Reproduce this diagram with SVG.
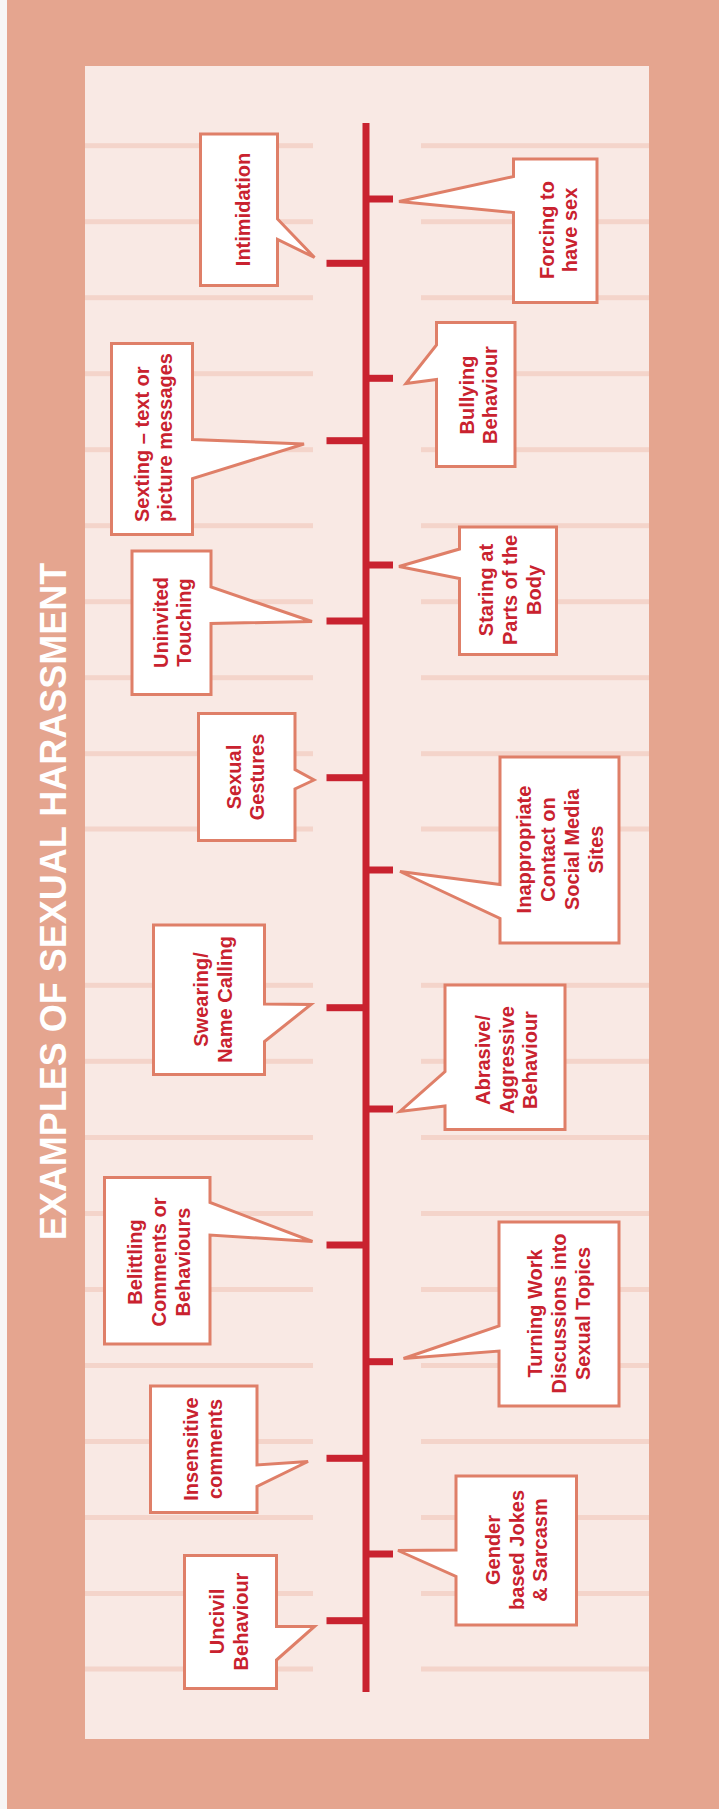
<svg xmlns="http://www.w3.org/2000/svg" width="719" height="1809" viewBox="0 0 719 1809">
<style>
.co{fill:#FFFFFF;stroke:#DF7F68;stroke-width:3;stroke-linejoin:miter}
.t{font-family:"Liberation Sans",Arial,sans-serif;font-weight:bold;font-size:20px;fill:#C9222F;text-anchor:middle;dominant-baseline:central}
.st{fill:#F4D4CA}
.tk{fill:#C9222F}
</style>
<rect x="0" y="0" width="719" height="1809" fill="#F7F6F6"/>
<rect x="7" y="0" width="712" height="1809" fill="#E5A58F"/>
<rect x="85" y="66" width="564" height="1673" fill="#F9E9E4"/>
<g id="stripes">
<rect class="st" x="85" y="143.2" width="228" height="5"/><rect class="st" x="421" y="143.2" width="228" height="5"/>
<rect class="st" x="85" y="219.2" width="228" height="5"/><rect class="st" x="421" y="219.2" width="228" height="5"/>
<rect class="st" x="85" y="295.2" width="228" height="5"/><rect class="st" x="421" y="295.2" width="228" height="5"/>
<rect class="st" x="85" y="371.2" width="228" height="5"/><rect class="st" x="421" y="371.2" width="228" height="5"/>
<rect class="st" x="85" y="447.2" width="228" height="5"/><rect class="st" x="421" y="447.2" width="228" height="5"/>
<rect class="st" x="85" y="523.2" width="228" height="5"/><rect class="st" x="421" y="523.2" width="228" height="5"/>
<rect class="st" x="85" y="599.2" width="228" height="5"/><rect class="st" x="421" y="599.2" width="228" height="5"/>
<rect class="st" x="85" y="675.2" width="228" height="5"/><rect class="st" x="421" y="675.2" width="228" height="5"/>
<rect class="st" x="85" y="751.2" width="228" height="5"/><rect class="st" x="421" y="751.2" width="228" height="5"/>
<rect class="st" x="85" y="826.5" width="228" height="5"/><rect class="st" x="421" y="826.5" width="228" height="5"/>
<rect class="st" x="85" y="982.8" width="228" height="5"/><rect class="st" x="421" y="982.8" width="228" height="5"/>
<rect class="st" x="85" y="1058.8" width="228" height="5"/><rect class="st" x="421" y="1058.8" width="228" height="5"/>
<rect class="st" x="85" y="1135" width="228" height="5"/><rect class="st" x="421" y="1135" width="228" height="5"/>
<rect class="st" x="85" y="1211" width="228" height="5"/><rect class="st" x="421" y="1211" width="228" height="5"/>
<rect class="st" x="85" y="1287" width="228" height="5"/><rect class="st" x="421" y="1287" width="228" height="5"/>
<rect class="st" x="85" y="1363" width="228" height="5"/><rect class="st" x="421" y="1363" width="228" height="5"/>
<rect class="st" x="85" y="1439" width="228" height="5"/><rect class="st" x="421" y="1439" width="228" height="5"/>
<rect class="st" x="85" y="1515" width="228" height="5"/><rect class="st" x="421" y="1515" width="228" height="5"/>
<rect class="st" x="85" y="1591" width="228" height="5"/><rect class="st" x="421" y="1591" width="228" height="5"/>
<rect class="st" x="85" y="1666.5" width="228" height="5"/><rect class="st" x="421" y="1666.5" width="228" height="5"/>
</g>
<g id="title">
<text transform="translate(53.5,901.5) rotate(-90)" font-family="'Liberation Sans',Arial,sans-serif" font-weight="bold" font-size="36" fill="#FFFFFF" text-anchor="middle" dominant-baseline="central">EXAMPLES OF SEXUAL HARASSMENT</text>
</g>
<g id="connectors">
<rect class="tk" x="362.5" y="123" width="7" height="1569"/>
<rect class="tk" x="326.5" y="259.8" width="40" height="7"/>
<rect class="tk" x="326.5" y="437.2" width="40" height="7"/>
<rect class="tk" x="326.5" y="617.5" width="40" height="7"/>
<rect class="tk" x="326.5" y="774.2" width="40" height="7"/>
<rect class="tk" x="326.5" y="1004.2" width="40" height="7"/>
<rect class="tk" x="326.5" y="1241.5" width="40" height="7"/>
<rect class="tk" x="326.5" y="1454.8" width="40" height="7"/>
<rect class="tk" x="326.5" y="1617.2" width="40" height="7"/>
<rect class="tk" x="366" y="195.5" width="27" height="7"/>
<rect class="tk" x="366" y="374.8" width="27" height="7"/>
<rect class="tk" x="366" y="561.5" width="27" height="7"/>
<rect class="tk" x="366" y="866.5" width="27" height="7"/>
<rect class="tk" x="366" y="1105.5" width="27" height="7"/>
<rect class="tk" x="366" y="1358.2" width="27" height="7"/>
<rect class="tk" x="366" y="1550.5" width="27" height="7"/>
</g>
<g id="intimidation">
<polygon class="co" points="200.5,134 277.5,134 277.5,219 314.5,257.5 277.5,239.5 277.5,285.5 200.5,285.5"/>
<text class="t" transform="translate(242.5,209.5) rotate(-90)"><tspan x="0" y="0">Intimidation</tspan></text>
</g>
<g id="forcing">
<polygon class="co" points="513.5,159 597,159 597,302.5 513.5,302.5 513.5,212.5 399,201.5 513.5,176.5"/>
<text class="t" transform="translate(558.5,230) rotate(-90)"><tspan x="0" y="-11.9">Forcing to</tspan><tspan x="0" y="11.9">have sex</tspan></text>
</g>
<g id="bullying">
<polygon class="co" points="436.5,322.5 515,322.5 515,466.5 436.5,466.5 436.5,379.5 406,383.5 436.5,345"/>
<text class="t" transform="translate(478.5,395) rotate(-90)"><tspan x="0" y="-11.9">Bullying</tspan><tspan x="0" y="11.9">Behaviour</tspan></text>
</g>
<g id="sexting">
<polygon class="co" points="111.5,343.5 192.5,343.5 192.5,439.5 304,444 192.5,478.5 192.5,534.5 111.5,534.5"/>
<text class="t" transform="translate(153.5,522) rotate(-90)" style="text-anchor:start"><tspan x="0" y="-11.9">Sexting – text or</tspan><tspan x="0" y="11.9">picture messages</tspan></text>
</g>
<g id="uninvited">
<polygon class="co" points="132,551 211,551 211,587 312,621.5 211,623.5 211,694.5 132,694.5"/>
<text class="t" transform="translate(172.5,622.5) rotate(-90)"><tspan x="0" y="-11.9">Uninvited</tspan><tspan x="0" y="11.9">Touching</tspan></text>
</g>
<g id="staring">
<polygon class="co" points="459.5,527 556.5,527 556.5,654.5 459.5,654.5 459.5,578.5 399,566.5 459.5,549"/>
<text class="t" transform="translate(510,590) rotate(-90)"><tspan x="0" y="-23.8">Staring at</tspan><tspan x="0" y="0">Parts of the</tspan><tspan x="0" y="23.8">Body</tspan></text>
</g>
<g id="gestures">
<polygon class="co" points="198.5,713.5 295,713.5 295,769.5 314,780 295,789 295,840.5 198.5,840.5"/>
<text class="t" transform="translate(245.5,777) rotate(-90)"><tspan x="0" y="-11.9">Sexual</tspan><tspan x="0" y="11.9">Gestures</tspan></text>
</g>
<g id="inappropriate">
<polygon class="co" points="500,757 619,757 619,943 500,943 500,918.5 400,871.5 500,884.5"/>
<text class="t" transform="translate(560,849.5) rotate(-90)"><tspan x="0" y="-35.7">Inappropriate</tspan><tspan x="0" y="-11.9">Contact on</tspan><tspan x="0" y="11.9">Social Media</tspan><tspan x="0" y="35.7">Sites</tspan></text>
</g>
<g id="swearing">
<polygon class="co" points="153.5,925 264.5,925 264.5,1004 311,1004.5 264.5,1041.5 264.5,1074.5 153.5,1074.5"/>
<text class="t" transform="translate(213,999.5) rotate(-90)"><tspan x="0" y="-11.9">Swearing/</tspan><tspan x="0" y="11.9">Name Calling</tspan></text>
</g>
<g id="abrasive">
<polygon class="co" points="445,985 565,985 565,1129.5 445,1129.5 445,1106 400,1111.5 445,1071.5"/>
<text class="t" transform="translate(506.5,1060) rotate(-90)"><tspan x="0" y="-23.8">Abrasive/</tspan><tspan x="0" y="0">Aggressive</tspan><tspan x="0" y="23.8">Behaviour</tspan></text>
</g>
<g id="belittling">
<polygon class="co" points="104.5,1177.5 210,1177.5 210,1202.5 312.5,1241.5 210,1235 210,1344 104.5,1344"/>
<text class="t" transform="translate(159,1262) rotate(-90)"><tspan x="0" y="-23.8">Belittling</tspan><tspan x="0" y="0">Comments or</tspan><tspan x="0" y="23.8">Behaviours</tspan></text>
</g>
<g id="turning">
<polygon class="co" points="499,1222 619,1222 619,1406 499,1406 499,1351 403.5,1358.5 499,1326"/>
<text class="t" transform="translate(559,1313.5) rotate(-90)"><tspan x="0" y="-23.8">Turning Work</tspan><tspan x="0" y="0">Discussions into</tspan><tspan x="0" y="23.8">Sexual Topics</tspan></text>
</g>
<g id="insensitive">
<polygon class="co" points="150.5,1386 257,1386 257,1465 308,1461.5 257,1486.5 257,1512.5 150.5,1512.5"/>
<text class="t" transform="translate(203,1449) rotate(-90)"><tspan x="0" y="-11.9">Insensitive</tspan><tspan x="0" y="11.9">comments</tspan></text>
</g>
<g id="gender">
<polygon class="co" points="456,1476 576.5,1476 576.5,1625 456,1625 456,1576.5 398,1550.5 456,1550"/>
<text class="t" transform="translate(516.5,1550) rotate(-90)"><tspan x="0" y="-23.8">Gender</tspan><tspan x="0" y="0">based Jokes</tspan><tspan x="0" y="23.8">&amp; Sarcasm</tspan></text>
</g>
<g id="uncivil">
<polygon class="co" points="184.5,1555.5 276.5,1555.5 276.5,1626.5 314.5,1626.5 276.5,1660 276.5,1688.5 184.5,1688.5"/>
<text class="t" transform="translate(229,1621.5) rotate(-90)"><tspan x="0" y="-11.9">Uncivil</tspan><tspan x="0" y="11.9">Behaviour</tspan></text>
</g>
</svg>
